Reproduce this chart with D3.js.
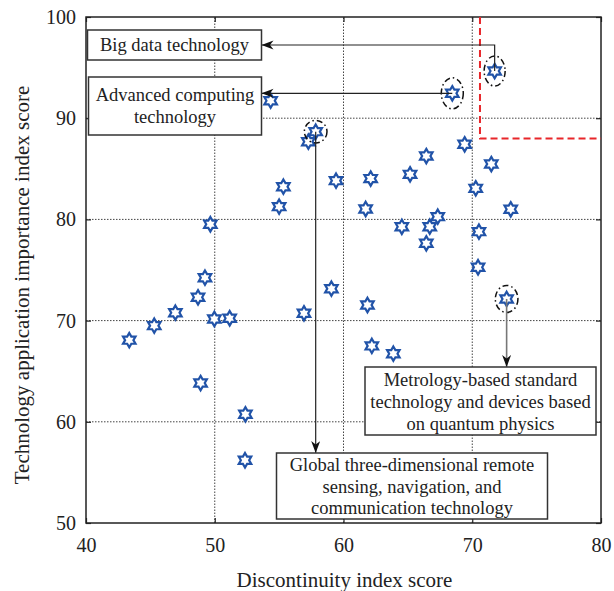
<!DOCTYPE html>
<html>
<head>
<meta charset="utf-8">
<script src="https://cdn.jsdelivr.net/npm/d3@7"></script>
<style>
  body { margin: 0; background: #fff; }
  svg { display: block; }
  text { font-family: "Liberation Serif", "Times New Roman", serif; fill: #222; }
</style>
</head>
<body>
<svg id="chart" width="614" height="591"></svg>
<script>
// discontinuity index (x) and application importance index (y) per technology
const discontinuity = [43.36, 45.30, 46.94, 48.70, 49.24, 49.66, 49.97, 51.16, 48.90, 52.38,
    52.35, 54.34, 55.00, 55.33, 56.93, 57.27, 57.84, 59.06, 59.42, 61.72,
    61.86, 62.11, 62.20, 63.87, 64.53, 65.17, 66.43, 66.43, 66.70, 67.32,
    68.45, 69.41, 70.27, 70.52, 70.45, 71.48, 71.74, 72.67, 72.99];
const importance = [68.07, 69.50, 70.78, 72.30, 74.24, 79.52, 70.16, 70.23, 63.83, 60.74,
    56.20, 91.73, 81.26, 83.23, 70.72, 87.68, 88.67, 73.15, 83.83, 81.03,
    71.54, 84.03, 67.50, 66.73, 79.27, 84.45, 86.26, 77.64, 79.28, 80.27,
    92.46, 87.42, 83.07, 78.79, 75.27, 85.47, 94.66, 72.14, 81.00];
const xTicks = [40, 50, 60, 70, 80];
const yTicks = [50, 60, 70, 80, 90, 100];
const xTitle = "Discontinuity index score";
const yTitle = "Technology application importance index score";
// red dashed corner (high discontinuity & high importance)
const thresholdX = 70.6;
const thresholdY = 88.0;
// highlighted technologies: point index and label lines
const highlightIndex = [36, 30, 16, 37];
const highlightLabel = [
    ["Big data technology"],
    ["Advanced computing", "technology"],
    ["Global three-dimensional remote", "sensing, navigation, and", "communication technology"],
    ["Metrology-based standard", "technology and devices based", "on quantum physics"]
];

const serif = '"Liberation Serif", "Times New Roman", serif';
const margin = {top: 17, right: 13, bottom: 68, left: 86};
const width = 614 - margin.left - margin.right;
const height = 591 - margin.top - margin.bottom;

const svg = d3.select("#chart");

const x = d3.scaleLinear().domain([40, 80]).range([margin.left, margin.left + width]);
const y = d3.scaleLinear().domain([50, 100]).range([margin.top + height, margin.top]);

const points = discontinuity.map((d, i) => ({x: d, y: importance[i]}));

// arrowhead
svg.append("defs").append("marker")
    .attr("id", "arrow")
    .attr("markerUnits", "userSpaceOnUse")
    .attr("markerWidth", 13).attr("markerHeight", 10)
    .attr("refX", 12).attr("refY", 4.5)
    .attr("orient", "auto")
    .append("path")
    .attr("d", "M0,0 L12,4.5 L0,9 L3.5,4.5 Z")
    .attr("fill", "#111");

// grid
svg.append("g")
    .selectAll("line")
    .data(xTicks.slice(1, -1))
    .join("line")
    .attr("x1", d => x(d)).attr("x2", d => x(d))
    .attr("y1", y(50)).attr("y2", y(100))
    .attr("stroke", "#444").attr("stroke-width", 1)
    .attr("stroke-dasharray", "1.5,1.5");

svg.append("g")
    .selectAll("line")
    .data(yTicks.slice(1, -1))
    .join("line")
    .attr("x1", x(40)).attr("x2", x(80))
    .attr("y1", d => y(d)).attr("y2", d => y(d))
    .attr("stroke", "#444").attr("stroke-width", 1)
    .attr("stroke-dasharray", "1.5,1.5");

// axes (ticks inward on all four sides)
const tick = 5;
svg.append("g")
    .attr("transform", `translate(0,${y(50)})`)
    .call(d3.axisBottom(x).tickValues(xTicks).tickSize(-tick).tickPadding(15))
    .call(g => g.select(".domain").remove());
svg.append("g")
    .attr("transform", `translate(0,${y(100)})`)
    .call(d3.axisTop(x).tickValues(xTicks).tickSize(-tick).tickFormat(""))
    .call(g => g.select(".domain").remove());
svg.append("g")
    .attr("transform", `translate(${x(40)},0)`)
    .call(d3.axisLeft(y).tickValues(yTicks).tickSize(-tick).tickPadding(10))
    .call(g => g.select(".domain").remove());
svg.append("g")
    .attr("transform", `translate(${x(80)},0)`)
    .call(d3.axisRight(y).tickValues(yTicks).tickSize(-tick).tickFormat(""))
    .call(g => g.select(".domain").remove());

svg.selectAll(".tick line").attr("stroke", "#222").attr("stroke-width", 1.2);
svg.selectAll(".tick text")
    .style("font-family", serif)
    .style("font-size", "20px")
    .style("fill", "#222");

// frame
svg.append("rect")
    .attr("x", x(40)).attr("y", y(100))
    .attr("width", x(80) - x(40)).attr("height", y(50) - y(100))
    .attr("fill", "none").attr("stroke", "#222").attr("stroke-width", 1.5);

// red dashed region
svg.append("path")
    .attr("d", `M${x(thresholdX)},${y(100)} V${y(thresholdY)} H${x(80)}`)
    .attr("fill", "none")
    .attr("stroke", "#e8262a").attr("stroke-width", 2)
    .attr("stroke-dasharray", "7,4");

// hexagram markers
const hexagram = r => {
    const pts = [];
    for (let k = 0; k < 12; k++) {
        const a = -Math.PI / 2 + k * Math.PI / 6;
        const rr = k % 2 === 0 ? r : r / Math.sqrt(3);
        pts.push([rr * Math.cos(a), rr * Math.sin(a)]);
    }
    return "M" + pts.map(p => p.join(",")).join("L") + "Z";
};

svg.append("g")
    .selectAll("path")
    .data(points)
    .join("path")
    .attr("transform", d => `translate(${x(d.x)},${y(d.y)})`)
    .attr("d", hexagram(7.2))
    .attr("fill", "#fff")
    .attr("stroke", "#2153a8")
    .attr("stroke-width", 2.2)
    .attr("stroke-linejoin", "miter");

// annotation layout (pixels)
const boxes = [
    {x: 87.5, y: 30, w: 174, h: 30, lineY: [45], ell: [10.5, 15]},
    {x: 88.5, y: 77, w: 173, h: 58, lineY: [95, 117], ell: [11, 15.5]},
    {x: 276.5, y: 453, w: 271, h: 66, lineY: [465, 486.5, 508], ell: [11.3, 11.3]},
    {x: 365, y: 367, w: 231, h: 68, lineY: [379.5, 402, 424], ell: [11.3, 13.5]}
];

// dash-dot ellipses around highlighted points
svg.append("g")
    .selectAll("ellipse")
    .data(highlightIndex)
    .join("ellipse")
    .attr("cx", d => x(points[d].x))
    .attr("cy", d => y(points[d].y))
    .attr("rx", (d, i) => boxes[i].ell[0])
    .attr("ry", (d, i) => boxes[i].ell[1])
    .attr("fill", "none")
    .attr("stroke", "#111").attr("stroke-width", 1.5)
    .attr("stroke-dasharray", "6,3,1.5,3");

// leader lines
const leaders = highlightIndex.map((d, i) => {
    const px = x(points[d].x), py = y(points[d].y), b = boxes[i];
    if (i === 0) return `M${px},${py} V${b.y + b.h / 2} H${b.x + b.w}`;
    if (i === 1) return `M${px},${py} H${b.x + b.w}`;
    return `M${px},${py} V${b.y}`;
});

svg.append("g")
    .selectAll("path")
    .data(leaders)
    .join("path")
    .attr("d", d => d)
    .attr("fill", "none")
    .attr("stroke", (d, i) => i === 3 ? "#777" : "#222")
    .attr("stroke-width", (d, i) => i === 3 ? 1.6 : 1.2)
    .attr("marker-end", "url(#arrow)");

// label boxes
const label = svg.append("g")
    .selectAll("g")
    .data(highlightLabel)
    .join("g");

label.append("rect")
    .attr("x", (d, i) => boxes[i].x)
    .attr("y", (d, i) => boxes[i].y)
    .attr("width", (d, i) => boxes[i].w)
    .attr("height", (d, i) => boxes[i].h)
    .attr("fill", "#fff")
    .attr("stroke", "#333").attr("stroke-width", 1.5);

label.each(function (lines, i) {
    const b = boxes[i];
    d3.select(this).selectAll("text")
        .data(lines)
        .join("text")
        .attr("x", b.x + b.w / 2)
        .attr("y", (d, k) => b.lineY[k])
        .attr("dy", "0.33em")
        .attr("text-anchor", "middle")
        .attr("font-size", 18.5)
        .text(d => d);
});

// axis titles
svg.append("text")
    .attr("x", (x(40) + x(80)) / 2 + 1)
    .attr("y", 587)
    .attr("text-anchor", "middle")
    .attr("font-size", 21)
    .text(xTitle);

svg.append("text")
    .attr("transform", `translate(29,${285}) rotate(-90)`)
    .attr("text-anchor", "middle")
    .attr("font-size", 21)
    .text(yTitle);
</script>
</body>
</html>
